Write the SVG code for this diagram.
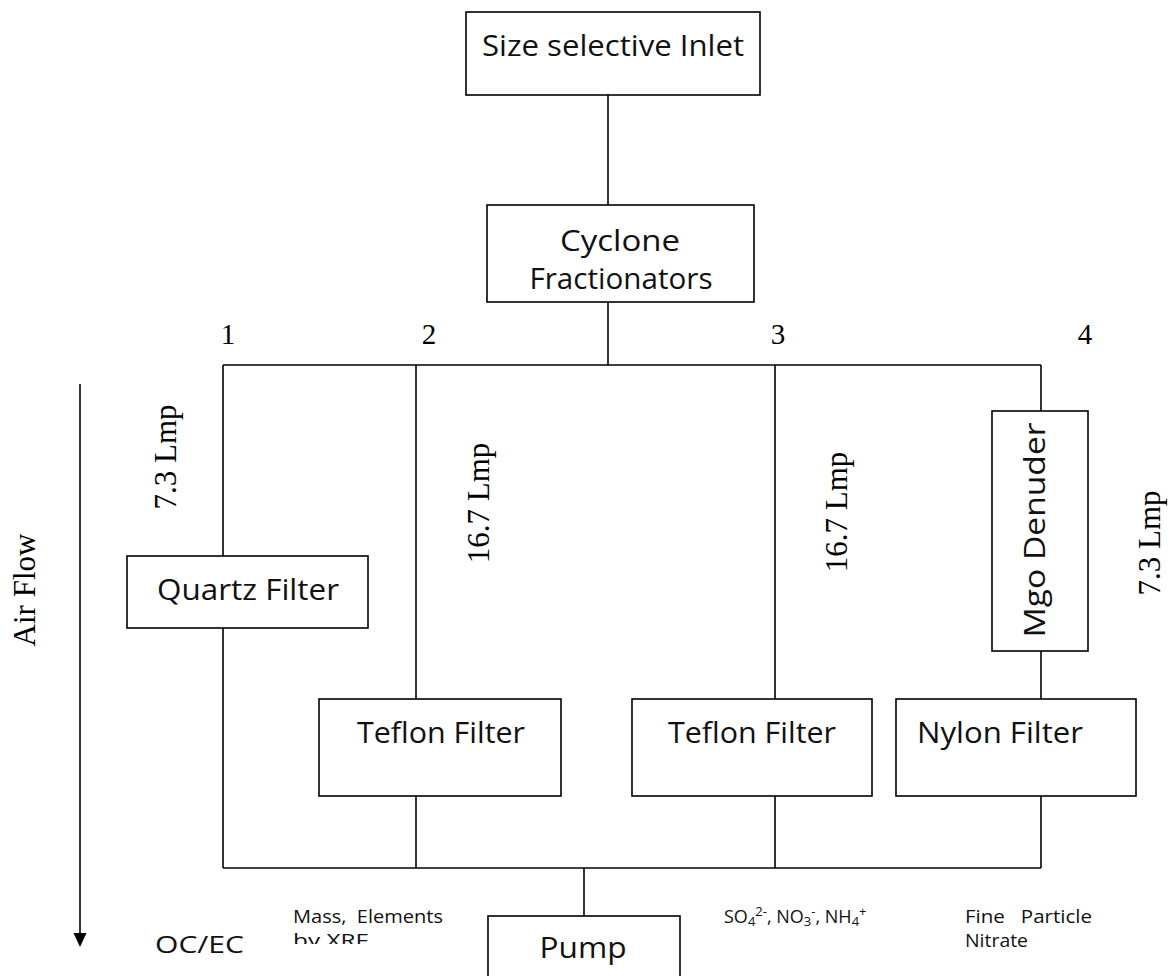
<svg xmlns="http://www.w3.org/2000/svg" width="1172" height="976" viewBox="0 0 1172 976">
<defs>
<style>
.box{fill:#fff;stroke:#000;stroke-width:1.6}
.ln{fill:none;stroke:#000;stroke-width:1.6}
.t{font-family:"Open Sans","Liberation Sans",sans-serif;fill:#111}
.big{font-size:30px}
.tm{font-family:"Liberation Serif",serif;font-size:31px;fill:#000}
.num{font-family:"Liberation Serif",serif;font-size:29px;fill:#000}
.sm{font-family:"Open Sans","Liberation Sans",sans-serif;font-size:18px;fill:#111}
</style>
<clipPath id="clipxrf"><rect x="280" y="925" width="200" height="19"/></clipPath>
</defs>
<g id="connectors">
<line class="ln" x1="608" y1="95" x2="608" y2="205"/>
<line class="ln" x1="608" y1="302" x2="608" y2="365"/>
<line class="ln" x1="223" y1="365" x2="1041" y2="365"/>
<line class="ln" x1="223" y1="365" x2="223" y2="556"/>
<line class="ln" x1="223" y1="628" x2="223" y2="868"/>
<line class="ln" x1="416" y1="365" x2="416" y2="699"/>
<line class="ln" x1="416" y1="796" x2="416" y2="868"/>
<line class="ln" x1="775" y1="365" x2="775" y2="699"/>
<line class="ln" x1="775" y1="796" x2="775" y2="868"/>
<line class="ln" x1="1041" y1="365" x2="1041" y2="411"/>
<line class="ln" x1="1041" y1="651" x2="1041" y2="699"/>
<line class="ln" x1="1041" y1="796" x2="1041" y2="868"/>
<line class="ln" x1="223" y1="868" x2="1041" y2="868"/>
<line class="ln" x1="584" y1="868" x2="584" y2="916"/>
<line class="ln" x1="80" y1="384" x2="80" y2="935"/>
<polygon points="73.5,933 86.5,933 80,947" fill="#000"/>
</g>
<g id="inlet"><rect class="box" x="466" y="12" width="294" height="83"/><text class="t big" x="613" y="56" text-anchor="middle" textLength="262" lengthAdjust="spacingAndGlyphs">Size selective Inlet</text></g>
<g id="cyclone"><rect class="box" x="487" y="205" width="267" height="97"/><text class="t big" x="620" y="251" text-anchor="middle" textLength="120" lengthAdjust="spacingAndGlyphs">Cyclone</text><text class="t big" x="621" y="289" text-anchor="middle" textLength="183" lengthAdjust="spacingAndGlyphs">Fractionators</text></g>
<g id="quartz"><rect class="box" x="127" y="556" width="241" height="72"/><text class="t big" x="248" y="600" text-anchor="middle" textLength="182" lengthAdjust="spacingAndGlyphs">Quartz Filter</text></g>
<g id="teflon1"><rect class="box" x="319" y="699" width="242" height="97"/><text class="t big" x="441" y="743" text-anchor="middle" textLength="168" lengthAdjust="spacingAndGlyphs">Teflon Filter</text></g>
<g id="teflon2"><rect class="box" x="632" y="699" width="240" height="97"/><text class="t big" x="752" y="743" text-anchor="middle" textLength="168" lengthAdjust="spacingAndGlyphs">Teflon Filter</text></g>
<g id="mgo"><rect class="box" x="992" y="411" width="96" height="240"/><text class="t big" transform="translate(1045,530) rotate(-90)" text-anchor="middle" textLength="215" lengthAdjust="spacingAndGlyphs">Mgo Denuder</text></g>
<g id="nylon"><rect class="box" x="896" y="699" width="240" height="97"/><text class="t big" x="1000" y="743" text-anchor="middle" textLength="166" lengthAdjust="spacingAndGlyphs">Nylon Filter</text></g>
<g id="pump"><rect class="box" x="488" y="916" width="192" height="70"/><text class="t big" x="583" y="958" text-anchor="middle" textLength="87" lengthAdjust="spacingAndGlyphs">Pump</text></g>
<g id="labels">
<text class="num" x="228" y="344" text-anchor="middle">1</text>
<text class="num" x="429" y="344" text-anchor="middle">2</text>
<text class="num" x="778" y="344" text-anchor="middle">3</text>
<text class="num" x="1085" y="344" text-anchor="middle">4</text>
<text class="tm" transform="translate(35,590) rotate(-90)" text-anchor="middle" font-size="32">Air Flow</text>
<text class="tm" transform="translate(176,457) rotate(-90)" text-anchor="middle">7.3 Lmp</text>
<text class="tm" transform="translate(489,503) rotate(-90)" text-anchor="middle">16.7 Lmp</text>
<text class="tm" transform="translate(847,512) rotate(-90)" text-anchor="middle">16.7 Lmp</text>
<text class="tm" transform="translate(1160,543) rotate(-90)" text-anchor="middle">7.3 Lmp</text>
<text class="t" x="155" y="953" font-size="24" textLength="89" lengthAdjust="spacingAndGlyphs">OC/EC</text>
<text class="sm" x="293" y="923" xml:space="preserve" textLength="150" lengthAdjust="spacingAndGlyphs">Mass,  Elements</text>
<text class="sm" x="293" y="947" clip-path="url(#clipxrf)" textLength="75" lengthAdjust="spacingAndGlyphs">by XRF</text>
<text class="sm" x="724" y="923" font-size="19">SO<tspan font-size="13" dy="3">4</tspan><tspan font-size="13" dy="-10">2-</tspan><tspan dy="7">, NO</tspan><tspan font-size="13" dy="3">3</tspan><tspan font-size="13" dy="-10">-</tspan><tspan dy="7">, NH</tspan><tspan font-size="13" dy="3">4</tspan><tspan font-size="13" dy="-10">+</tspan></text>
<text class="sm" x="965" y="923" xml:space="preserve" textLength="127" lengthAdjust="spacingAndGlyphs">Fine   Particle</text>
<text class="sm" x="965" y="947" textLength="63" lengthAdjust="spacingAndGlyphs">Nitrate</text>
</g>
</svg>
